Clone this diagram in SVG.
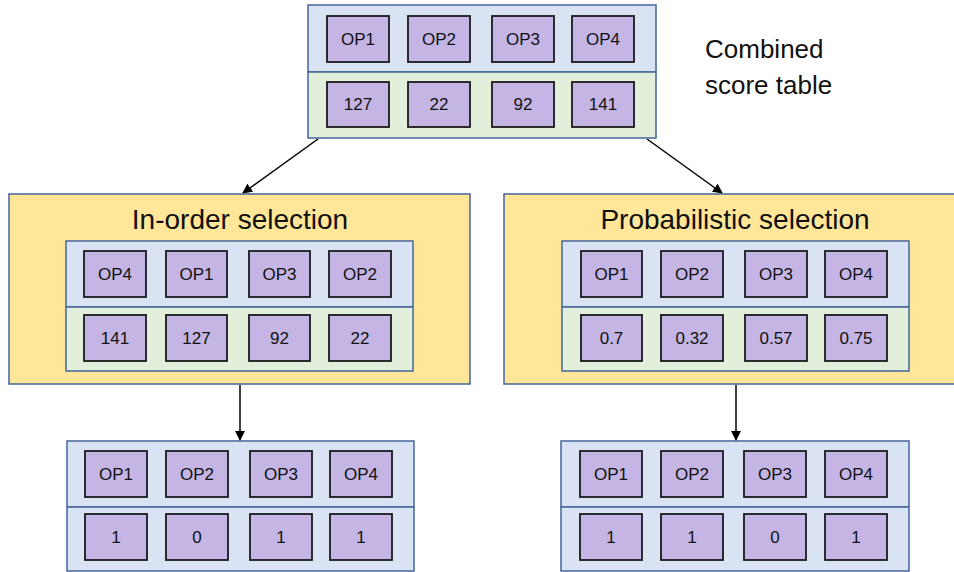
<svg xmlns="http://www.w3.org/2000/svg" width="954" height="572" viewBox="0 0 954 572">
<style>
text{font-family:"Liberation Sans",Arial,sans-serif;fill:#111}
.tbl{stroke:#44659c;stroke-width:1.5}
.blue{fill:#dae3f3}
.green{fill:#e2efda}
.yel{fill:#ffe699;stroke:#44659c;stroke-width:1.5}
.cell{fill:#c4b5e4;stroke:#1a1a1a;stroke-width:1.8}
.ct{font-size:17px;text-anchor:middle;dominant-baseline:central}
.title{font-size:28px;text-anchor:middle}
.conn{stroke:#000;stroke-width:1.5;fill:none;marker-end:url(#ah)}
</style>
<defs>
<marker id="ah" markerWidth="10" markerHeight="10" refX="9" refY="5" orient="auto" markerUnits="userSpaceOnUse">
<path d="M0,0 L10,5 L0,10 z" fill="#000"/>
</marker>
</defs>
<rect width="954" height="572" fill="#fff"/>

<g id="connectors">
<line class="conn" x1="318" y1="139" x2="243" y2="193"/>
<line class="conn" x1="647" y1="139" x2="722" y2="193"/>
<line class="conn" x1="240" y1="385" x2="240" y2="440"/>
<line class="conn" x1="736" y1="385" x2="736" y2="440"/>
</g>

<g id="combined-table">
<rect class="blue tbl" x="308" y="5" width="348" height="67"/>
<rect class="green tbl" x="308" y="72" width="348" height="66"/>
<rect class="cell" x="327" y="16" width="62" height="46"/><text class="ct" x="358" y="39">OP1</text>
<rect class="cell" x="408" y="16" width="62" height="46"/><text class="ct" x="439" y="39">OP2</text>
<rect class="cell" x="492" y="16" width="62" height="46"/><text class="ct" x="523" y="39">OP3</text>
<rect class="cell" x="572" y="16" width="62" height="46"/><text class="ct" x="603" y="39">OP4</text>
<rect class="cell" x="327" y="82" width="62" height="45"/><text class="ct" x="358" y="104.5">127</text>
<rect class="cell" x="408" y="82" width="62" height="45"/><text class="ct" x="439" y="104.5">22</text>
<rect class="cell" x="492" y="82" width="62" height="45"/><text class="ct" x="523" y="104.5">92</text>
<rect class="cell" x="572" y="82" width="62" height="45"/><text class="ct" x="603" y="104.5">141</text>
</g>

<g id="combined-label">
<text x="705" y="58" font-size="26">Combined</text>
<text x="705" y="94" font-size="26">score table</text>
</g>

<g id="inorder-selection">
<rect class="yel" x="9" y="194" width="461" height="190"/>
<text class="title" x="240" y="229">In-order selection</text>
<rect class="blue tbl" x="66" y="241" width="347" height="66"/>
<rect class="green tbl" x="66" y="307" width="347" height="64"/>
<rect class="cell" x="84" y="251" width="62" height="46"/><text class="ct" x="115" y="274">OP4</text>
<rect class="cell" x="166" y="251" width="61" height="46"/><text class="ct" x="196.5" y="274">OP1</text>
<rect class="cell" x="249" y="251" width="61" height="46"/><text class="ct" x="279.5" y="274">OP3</text>
<rect class="cell" x="329" y="251" width="62" height="46"/><text class="ct" x="360" y="274">OP2</text>
<rect class="cell" x="84" y="315" width="62" height="46"/><text class="ct" x="115" y="338">141</text>
<rect class="cell" x="166" y="315" width="61" height="46"/><text class="ct" x="196.5" y="338">127</text>
<rect class="cell" x="249" y="315" width="61" height="46"/><text class="ct" x="279.5" y="338">92</text>
<rect class="cell" x="329" y="315" width="62" height="46"/><text class="ct" x="360" y="338">22</text>
</g>

<g id="probabilistic-selection">
<rect class="yel" x="504" y="194" width="452" height="190"/>
<text class="title" x="735" y="229">Probabilistic selection</text>
<rect class="blue tbl" x="562" y="241" width="347" height="66"/>
<rect class="green tbl" x="562" y="307" width="347" height="64"/>
<rect class="cell" x="581" y="251" width="61" height="46"/><text class="ct" x="611.5" y="274">OP1</text>
<rect class="cell" x="661" y="251" width="62" height="46"/><text class="ct" x="692" y="274">OP2</text>
<rect class="cell" x="745" y="251" width="62" height="46"/><text class="ct" x="776" y="274">OP3</text>
<rect class="cell" x="825" y="251" width="62" height="46"/><text class="ct" x="856" y="274">OP4</text>
<rect class="cell" x="581" y="315" width="61" height="46"/><text class="ct" x="611.5" y="338">0.7</text>
<rect class="cell" x="661" y="315" width="62" height="46"/><text class="ct" x="692" y="338">0.32</text>
<rect class="cell" x="745" y="315" width="62" height="46"/><text class="ct" x="776" y="338">0.57</text>
<rect class="cell" x="825" y="315" width="62" height="46"/><text class="ct" x="856" y="338">0.75</text>
</g>

<g id="inorder-result">
<rect class="blue tbl" x="67" y="441" width="347" height="66"/>
<rect class="blue tbl" x="67" y="507" width="347" height="64"/>
<rect class="cell" x="85" y="451" width="62" height="46"/><text class="ct" x="116" y="474">OP1</text>
<rect class="cell" x="166" y="451" width="62" height="46"/><text class="ct" x="197" y="474">OP2</text>
<rect class="cell" x="250" y="451" width="62" height="46"/><text class="ct" x="281" y="474">OP3</text>
<rect class="cell" x="330" y="451" width="62" height="46"/><text class="ct" x="361" y="474">OP4</text>
<rect class="cell" x="85" y="514" width="62" height="46"/><text class="ct" x="116" y="537">1</text>
<rect class="cell" x="166" y="514" width="62" height="46"/><text class="ct" x="197" y="537">0</text>
<rect class="cell" x="250" y="514" width="62" height="46"/><text class="ct" x="281" y="537">1</text>
<rect class="cell" x="330" y="514" width="62" height="46"/><text class="ct" x="361" y="537">1</text>
</g>

<g id="probabilistic-result">
<rect class="blue tbl" x="561" y="441" width="348" height="66"/>
<rect class="blue tbl" x="561" y="507" width="348" height="64"/>
<rect class="cell" x="580" y="451" width="62" height="46"/><text class="ct" x="611" y="474">OP1</text>
<rect class="cell" x="661" y="451" width="62" height="46"/><text class="ct" x="692" y="474">OP2</text>
<rect class="cell" x="744" y="451" width="62" height="46"/><text class="ct" x="775" y="474">OP3</text>
<rect class="cell" x="825" y="451" width="62" height="46"/><text class="ct" x="856" y="474">OP4</text>
<rect class="cell" x="580" y="514" width="62" height="46"/><text class="ct" x="611" y="537">1</text>
<rect class="cell" x="661" y="514" width="62" height="46"/><text class="ct" x="692" y="537">1</text>
<rect class="cell" x="744" y="514" width="62" height="46"/><text class="ct" x="775" y="537">0</text>
<rect class="cell" x="825" y="514" width="62" height="46"/><text class="ct" x="856" y="537">1</text>
</g>
</svg>
